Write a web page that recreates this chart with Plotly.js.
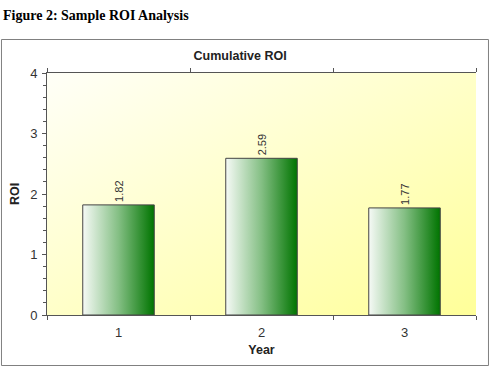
<!DOCTYPE html>
<html>
<head>
<meta charset="utf-8">
<script src="https://cdn.plot.ly/plotly-3.0.1.min.js"></script>
<style>html,body{margin:0;padding:0;background:#fff;}#chart{width:490px;height:366px;}</style>
</head>
<body>
<div id="chart"></div>
<script>
const years = ['1', '2', '3'];
const roi = [1.82, 2.59, 1.77];
const yTickVals = [0, 1, 2, 3, 4];

const trace = {
  type: 'bar',
  x: years,
  y: roi,
  width: 0.5,
  marker: {color: '#4a9a4a', line: {color: '#444', width: 1}},
  texttemplate: '%{y:.2f}',
  textposition: 'outside',
  textangle: -90,
  cliponaxis: false,
  textfont: {family: 'Liberation Sans, Arial', size: 11, color: '#333'},
  hoverinfo: 'none'
};

const layout = {
  width: 490, height: 366,
  margin: {l: 47, r: 14, t: 73, b: 51},
  paper_bgcolor: '#ffffff',
  plot_bgcolor: '#ffffcc',
  showlegend: false,
  font: {family: 'Liberation Sans, Arial', color: '#333'},
  title: {text: '<b>Cumulative ROI</b>', x: 0.49, xanchor: 'center', y: 0.848, yanchor: 'middle', font: {size: 12.5, color: '#222'}},
  xaxis: {
    type: 'category',
    showline: true, linecolor: '#555', linewidth: 1, mirror: 'ticks',
    ticks: 'outside', ticklen: 4, tickcolor: '#555', tickson: 'boundaries',
    ticklabelstandoff: 5,
    tickfont: {size: 13, color: '#333'},
    title: {text: '<b>Year</b>', font: {size: 12.5, color: '#222'}, standoff: 6},
    showgrid: false, zeroline: false, fixedrange: true
  },
  yaxis: {
    range: [0, 4], tickvals: yTickVals,
    showline: true, linecolor: '#555', linewidth: 1,
    ticks: 'outside', ticklen: 4, tickcolor: '#555',
    minor: {dtick: 0.2, ticks: 'outside', ticklen: 3, tickcolor: '#555'},
    ticklabelstandoff: 2,
    tickfont: {size: 13, color: '#333'},
    title: {text: '<b>ROI</b>', font: {size: 12.5, color: '#222'}, standoff: 7},
    showgrid: false, zeroline: false, fixedrange: true
  },
  yaxis2: {
    overlaying: 'y', side: 'right', range: [0, 4], tickvals: yTickVals,
    showline: true, linecolor: '#999', linewidth: 1,
    ticks: 'inside', ticklen: 3, tickcolor: '#666',
    minor: {dtick: 0.2, ticks: 'inside', ticklen: 2, tickcolor: '#666'},
    showticklabels: false, showgrid: false, zeroline: false, fixedrange: true
  },
  annotations: [{
    text: '<b>Figure 2: Sample ROI Analysis</b>',
    xref: 'paper', yref: 'paper', x: -0.107, y: 1.275,
    xanchor: 'left', yanchor: 'top', showarrow: false,
    font: {family: 'Liberation Serif, Times New Roman', size: 14, color: '#000'}
  }],
  shapes: [{
    type: 'rect', xref: 'paper', yref: 'paper',
    x0: -0.1061, x1: 1.0291, y0: -0.2087, y1: 1.1384,
    line: {color: '#808080', width: 1}, layer: 'below'
  }]
};

Plotly.newPlot('chart', [trace], layout, {displayModeBar: false, staticPlot: true}).then(function(gd) {
  const svgNS = 'http://www.w3.org/2000/svg';
  const svg = gd.querySelector('.main-svg');
  let defs = svg.querySelector('defs');
  if (!defs) { defs = document.createElementNS(svgNS, 'defs'); svg.insertBefore(defs, svg.firstChild); }
  function grad(id, x2, y2, stops) {
    const g = document.createElementNS(svgNS, 'linearGradient');
    g.setAttribute('id', id);
    g.setAttribute('x1', '0'); g.setAttribute('y1', '0');
    g.setAttribute('x2', x2); g.setAttribute('y2', y2);
    stops.forEach(function(s) {
      const st = document.createElementNS(svgNS, 'stop');
      st.setAttribute('offset', s[0]);
      st.setAttribute('stop-color', s[1]);
      g.appendChild(st);
    });
    defs.appendChild(g);
  }
  grad('barGrad', '1', '0', [['0', '#f6faf6'], ['0.5', '#84bf84'], ['1', '#007400']]);
  grad('bgGrad', '1', '1', [['0', '#fffff8'], ['1', '#ffff99']]);
  gd.querySelectorAll('.barlayer .point path').forEach(function(p) { p.style.fill = 'url(#barGrad)'; });
  gd.querySelectorAll('.bglayer rect.bg').forEach(function(r) { r.style.fill = 'url(#bgGrad)'; });
});
</script>
</body>
</html>
